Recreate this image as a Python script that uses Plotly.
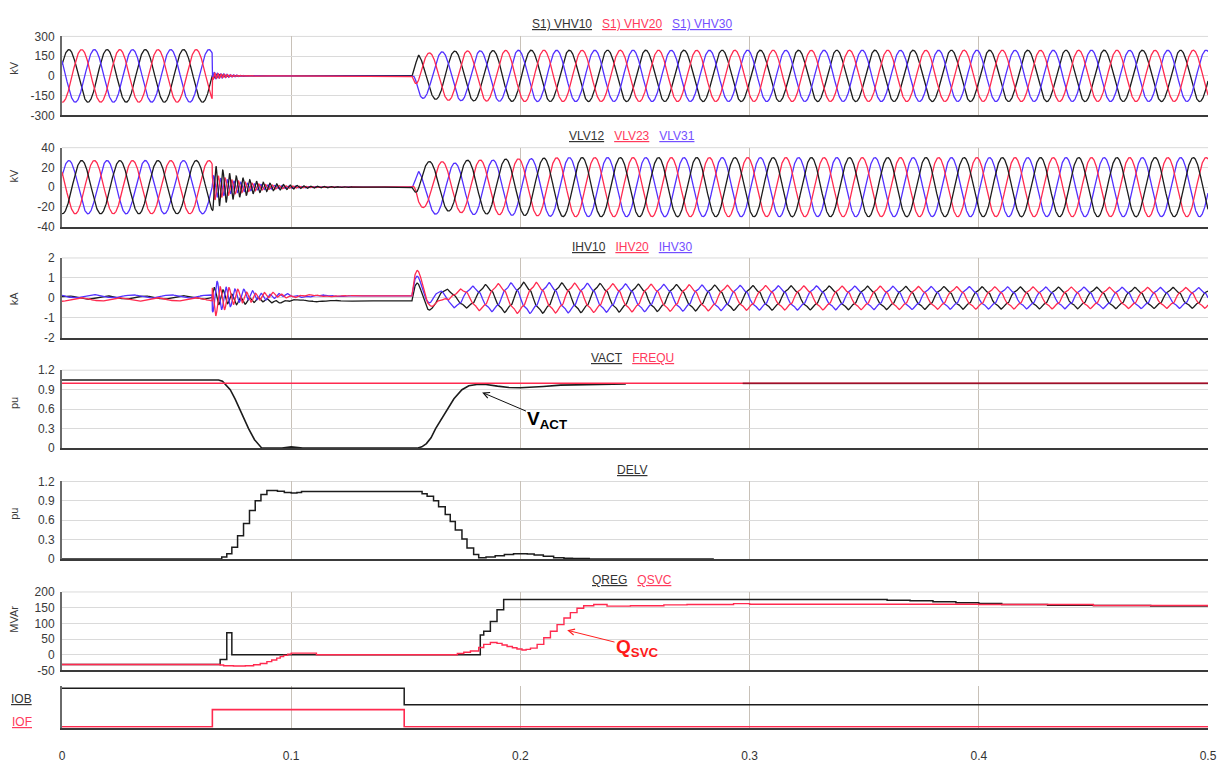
import numpy as np
import plotly.graph_objects as go

# ---------------- timing (s) ----------------
F_SYS = 60.0
T_FAULT = 0.0655
T_CLEAR = 0.1527
T_END = 0.5
DT = 1e-4
PHASE_T0_PRE = 0.0030      # time of the first VHV10 crest before the fault
PHASE_T0_POST = 0.0047     # crest reference after re-energisation
IHV_T0_POST = 0.0014

# ---------------- HV phase voltages (kV) ----------------
VHV_NAMES = ["S1) VHV10", "S1) VHV20", "S1) VHV30"]
VHV_ENV_T = [0.0, 0.0655, 0.0657, 0.1527, 0.1556, 0.170, 0.200, 0.500]
VHV_ENV = [200, 200, 0, 0, 168, 188, 195, 195]
VHV_RING_AMP = [14, 30, 32]
VHV_RING_PH = [0.0, 2.6, -2.6]
VHV_RING_HZ = 720
VHV_RING_TAU = 0.006

# ---------------- LV line voltages (kV) ----------------
VLV_NAMES = ["VLV12", "VLV23", "VLV31"]
VLV_ENV_T = [0.0, 0.0655, 0.0656, 0.1527, 0.1556, 0.170, 0.190, 0.220, 0.500]
VLV_ENV = [27, 27, 0, 0, 22, 26, 28, 30, 30]
VLV_RING_AMP = [24, 14, 12]
VLV_RING_PH = [2.62, 0.52, -1.57]
VLV_RING_HZ = 340
VLV_RING_TAU = 0.014
VLV_DC = [5, 3, -8]
VLV_DC_TAU = 0.012

# ---------------- HV currents (kA) ----------------
IHV_NAMES = ["IHV10", "IHV20", "IHV30"]
IHV_ENV_T = [0.0, 0.0655, 0.100, 0.130, 0.1527, 0.165, 0.185, 0.200, 0.250, 0.300, 0.400, 0.500]
IHV_ENV = [0.08, 0.08, 0.05, 0.0, 0.0, 0.30, 0.60, 0.70, 0.62, 0.55, 0.50, 0.46]
IHV_DC_T = [0.0, 0.0655, 0.085, 0.1527, 0.170, 0.500]
IHV10_DC = [0.02, 0.02, -0.15, -0.15, 0.0, 0.0]
IHV20_DC = [-0.08, -0.08, 0.10, 0.10, 0.0, 0.0]
IHV30_DC = [0.08, 0.08, 0.10, 0.10, 0.0, 0.0]
IHV_RING_AMP = [0.5, 0.85, 0.85]
IHV_RING_PH = [0.0, 2.1, -2.1]
IHV_RING_HZ = 260
IHV_RING_TAU = 0.013
IHV_SPIKE_AMP = [1.3, 1.9, 1.6]
IHV_SPIKE_HZ = 90
IHV_SPIKE_TAU = 0.006
IHV_H5 = 0.12

# ---------------- control signals ----------------
VACT_T = [0.0, 0.0683, 0.0700, 0.0734, 0.0755, 0.0775, 0.0795, 0.0814, 0.0840, 0.0860, 0.0872,
          0.0960, 0.0980, 0.1000, 0.1020, 0.1050, 0.1549, 0.1570, 0.1590, 0.1610, 0.1630, 0.1655,
          0.1680, 0.1710, 0.1745, 0.1775, 0.1810, 0.1850, 0.1900, 0.1950, 0.2000, 0.2050, 0.2100,
          0.2175, 0.2300, 0.2406, 0.2460]
VACT = [1.05, 1.05, 1.03, 0.90, 0.76, 0.60, 0.45, 0.30, 0.13, 0.04, 0.0,
        0.0, 0.015, 0.02, 0.015, 0.0, 0.0, 0.02, 0.07, 0.16, 0.30, 0.45,
        0.60, 0.76, 0.90, 0.96, 0.98, 0.98, 0.955, 0.935, 0.93, 0.935, 0.95,
        0.97, 0.978, 0.985, 0.988]
VACT_LATE_T = [0.297, 0.500]
VACT_LATE = [0.997, 0.997]
FREQU_T = [0.0, 0.500]
FREQU = [1.0, 1.0]

DELV_T = [0.0, 0.0697, 0.0719, 0.0741, 0.0766, 0.0792, 0.0818, 0.0843, 0.0868, 0.0894, 0.0940,
          0.0970, 0.1000, 0.1025, 0.1045, 0.1571, 0.1593, 0.1621, 0.1643, 0.1672, 0.1694, 0.1716,
          0.1745, 0.1767, 0.1796, 0.1818, 0.1850, 0.1890, 0.1930, 0.1970, 0.2000, 0.2030, 0.2060,
          0.2100, 0.2145, 0.2190, 0.2227, 0.2300, 0.2844]
DELV = [0.0, 0.03, 0.08, 0.18, 0.36, 0.55, 0.75, 0.90, 1.00, 1.06, 1.05,
        1.03, 1.02, 1.03, 1.045, 1.01, 0.97, 0.90, 0.81, 0.69, 0.58, 0.45,
        0.31, 0.17, 0.07, 0.02, 0.03, 0.05, 0.07, 0.08, 0.08, 0.075, 0.06,
        0.04, 0.02, 0.01, 0.005, 0.0, 0.0]

QREG_T = [0.0, 0.0690, 0.0719, 0.0741, 0.1825, 0.1840, 0.1869, 0.1898, 0.1927, 0.350, 0.360,
          0.370, 0.380, 0.390, 0.400, 0.410, 0.430, 0.450, 0.475, 0.500]
QREG = [-31, -15, 70, 0, 63, 75, 106, 143, 176, 176, 174,
        172, 169, 166, 163, 160, 158, 157, 155, 154]
QSVC_T = [0.0, 0.0690, 0.0705, 0.0748, 0.0800, 0.0836, 0.0865, 0.0894, 0.0915, 0.0937, 0.0952,
          0.0967, 0.0985, 0.1000, 0.1110, 0.1725, 0.1753, 0.1782, 0.1818, 0.1840, 0.1869, 0.1898,
          0.1920, 0.1942, 0.1965, 0.1985, 0.2007, 0.2025, 0.2044, 0.2073, 0.2102, 0.2131, 0.2160,
          0.2190, 0.2218, 0.2247, 0.2276, 0.2320, 0.2378, 0.2480, 0.2626, 0.2727, 0.2930, 0.3000,
          0.3500, 0.4000, 0.4500, 0.5000]
QSVC = [-31, -33, -35, -36, -35, -32, -28, -22, -17, -11, -6,
        -2, 2, 5, 0, 4, 8, 12, 23, 33, 39, 36,
        31, 26, 22, 18, 15, 17, 21, 33, 54, 75, 96,
        117, 134, 148, 156, 160, 155, 156, 159, 160, 163, 161,
        161, 160, 157, 153]

IOB_T = [0.0, 0.1493, 0.500]
IOB = [1, 0, 0]
IOF_T = [0.0, 0.0656, 0.1493, 0.500]
IOF = [0, 1, 0, 0]

XTICKS = [0, 0.1, 0.2, 0.3, 0.4, 0.5]
XTICK_TEXT = ["0", "0.1", "0.2", "0.3", "0.4", "0.5"]

# ---------------- styling ----------------
BLACK = "#1c1c1c"
RED = "#ff2a4f"
BLUE = "#5230ff"
RED_TXT = "#ff3a5c"
BLUE_TXT = "#7450ff"
HGRID = "#dadada"
VGRID = "#c8c1b8"
FONT = "Liberation Sans, Arial, sans-serif"
W, H = 1230, 763
ML, MR = 62, 22
PW = W - ML - MR


def px_x(px):
    return (px - ML) / PW


def px_y(py):
    return 1 - py / H


# ---------------- waveform synthesis ----------------
t = np.arange(0.0, T_END + DT / 2, DT)
w = 2 * np.pi * F_SYS
theta = np.where(t < T_CLEAR, w * (t - PHASE_T0_PRE), w * (t - PHASE_T0_POST))
theta_i = np.where(t < T_CLEAR, w * (t - PHASE_T0_PRE), w * (t - IHV_T0_POST))
tf = np.clip(t - T_FAULT, 0, None)
tr = np.clip(t - T_CLEAR, 0, None)
in_fault = (t > T_FAULT + DT / 2) & (t < T_CLEAR)
after = t >= T_CLEAR

SEQ = [0.0, -2 * np.pi / 3, 2 * np.pi / 3]
SEQ_LL = [-2 * np.pi / 3, 2 * np.pi / 3, 0.0]

vhv_env = np.interp(t, VHV_ENV_T, VHV_ENV)
vhv = []
for k in range(3):
    v = vhv_env * np.cos(theta + SEQ[k])
    v = v + in_fault * VHV_RING_AMP[k] * np.exp(-tf / VHV_RING_TAU) * np.sin(
        2 * np.pi * VHV_RING_HZ * tf + VHV_RING_PH[k])
    vhv.append(v)

vlv_env = np.interp(t, VLV_ENV_T, VLV_ENV)
vlv = []
for k in range(3):
    v = vlv_env * np.cos(theta + SEQ_LL[k])
    v = v + in_fault * VLV_RING_AMP[k] * np.exp(-tf / VLV_RING_TAU) * np.cos(
        2 * np.pi * VLV_RING_HZ * tf + VLV_RING_PH[k])
    v = v + after * VLV_DC[k] * (1 - np.exp(-tr / 0.002)) * np.exp(-tr / VLV_DC_TAU)
    vlv.append(v)

ihv_env = np.interp(t, IHV_ENV_T, IHV_ENV)
ihv_dc = [IHV10_DC, IHV20_DC, IHV30_DC]
ihv = []
for k in range(3):
    ang = theta_i + SEQ[k]
    i = ihv_env * (np.cos(ang) + IHV_H5 * np.cos(5 * ang))
    i = i + np.interp(t, IHV_DC_T, ihv_dc[k])
    i = i + in_fault * IHV_RING_AMP[k] * np.exp(-tf / IHV_RING_TAU) * np.sin(
        2 * np.pi * IHV_RING_HZ * tf + IHV_RING_PH[k])
    i = i + after * IHV_SPIKE_AMP[k] * np.exp(-tr / IHV_SPIKE_TAU) * np.sin(
        2 * np.pi * IHV_SPIKE_HZ * tr)
    ihv.append(i)

# ---------------- figure ----------------
fig = go.Figure()


def add(x, y, panel, color, width=1.3, shape="linear", opacity=1.0, yaxis=None):
    xa = "x" if panel == 1 else f"x{panel}"
    ya = yaxis or ("y" if panel == 1 else f"y{panel}")
    fig.add_trace(go.Scatter(x=x, y=y, xaxis=xa, yaxis=ya, mode="lines",
                             line=dict(color=color, width=width, shape=shape),
                             opacity=opacity, showlegend=False, hoverinfo="skip"))


PHASE_COLORS = [BLACK, RED, BLUE]
for k in (0, 2, 1):
    add(t, vhv[k], 1, PHASE_COLORS[k])
for k in (2, 1, 0):
    add(t, vlv[k], 2, PHASE_COLORS[k])
for k in (0, 2, 1):
    add(t, ihv[k], 3, PHASE_COLORS[k])

add(VACT_T, VACT, 4, BLACK, width=1.6)
add(FREQU_T, FREQU, 4, RED, width=1.4)
add(VACT_LATE_T, VACT_LATE, 4, "#5a0010", width=1.6, opacity=0.6)

add(DELV_T, DELV, 5, BLACK, width=1.5, shape="hv")

add(QREG_T, QREG, 6, BLACK, width=1.5, shape="hv")
add(QSVC_T, QSVC, 6, RED, width=1.4, shape="hv")

add(IOB_T, IOB, 7, BLACK, width=1.5, shape="hv", yaxis="y7")
add(IOF_T, IOF, 7, RED, width=1.6, shape="hv", yaxis="y8")

PANEL_PX = [(30, 110.5), (143.5, 224), (256, 337.5), (370.5, 450),
            (484, 563), (596.7, 676.7), (693, 735)]
Y_RANGES = [[-300, 300], [-40, 40], [-2, 2], [0, 1.2], [0, 1.2], [-50, 200], [-1.395, 1.12]]
Y_TICKS = [[-300, -150, 0, 150, 300], [-40, -20, 0, 20, 40], [-2, -1, 0, 1, 2],
           [0, 0.3, 0.6, 0.9, 1.2], [0, 0.3, 0.6, 0.9, 1.2], [-50, 0, 50, 100, 150, 200]]
Y_TICK_TEXT = [["-300", "-150", "0", "150", "300"], ["-40", "-20", "0", "20", "40"],
               ["-2", "-1", "0", "1", "2"], ["0", "0.3", "0.6", "0.9", "1.2"],
               ["0", "0.3", "0.6", "0.9", "1.2"], ["-50", "0", "50", "100", "150", "200"]]

layout = dict(
    width=W, height=H,
    margin=dict(l=ML, r=MR, t=0, b=0),
    paper_bgcolor="white", plot_bgcolor="white",
    font=dict(family=FONT, size=12, color="#3a3a3a"),
    showlegend=False,
)

for p in range(1, 8):
    top, bot = PANEL_PX[p - 1]
    xk = "xaxis" if p == 1 else f"xaxis{p}"
    yk = "yaxis" if p == 1 else f"yaxis{p}"
    xa = dict(domain=[0, 1], anchor="y" if p == 1 else f"y{p}", range=[0, 0.5],
              tickmode="array", tickvals=XTICKS, ticktext=XTICK_TEXT,
              showticklabels=(p == 7), ticks="", ticklabelstandoff=16,
              tickfont=dict(size=12, color="#333333"),
              showgrid=True, gridcolor=VGRID, gridwidth=1,
              showline=True, linecolor="#3a3a3a", linewidth=2, zeroline=False)
    if p > 1:
        xa["matches"] = "x"
    layout[xk] = xa
    ya = dict(domain=[px_y(bot), px_y(top)], anchor="x" if p == 1 else f"x{p}",
              ticks="", showline=True, linecolor="#6a6a6a", linewidth=2, zeroline=False)
    if p < 7:
        ya.update(range=Y_RANGES[p - 1], tickmode="array", tickvals=Y_TICKS[p - 1],
                  ticktext=Y_TICK_TEXT[p - 1], ticklabelstandoff=3,
                  tickfont=dict(size=12, color="#3a3a3a"),
                  showgrid=True, gridcolor=HGRID, gridwidth=1)
    else:
        ya.update(range=Y_RANGES[p - 1], showgrid=False, showticklabels=False)
    layout[yk] = ya

layout["yaxis8"] = dict(overlaying="y7", anchor="x7", range=[-0.04, 2.347],
                        showgrid=False, showline=False, showticklabels=False,
                        zeroline=False, ticks="")

shapes = []
for p in range(1, 7):
    shapes.append(dict(type="line", xref="paper", x0=0, x1=1,
                       yref=("y" if p == 1 else f"y{p}") + " domain", y0=1, y1=1,
                       line=dict(color=HGRID, width=1), layer="below"))
layout["shapes"] = shapes


def legend_text(names, colors):
    parts = [f"<span style='color:{c}'><u>{n}</u></span>" for n, c in zip(names, colors)]
    return "\u00a0\u00a0\u00a0".join(parts)


TITLE_CX = 632
annotations = []
titles = [
    (legend_text(VHV_NAMES, ["#333333", RED_TXT, BLUE_TXT]), 17),
    (legend_text(VLV_NAMES, ["#333333", RED_TXT, BLUE_TXT]), 131.5),
    (legend_text(IHV_NAMES, ["#333333", RED_TXT, BLUE_TXT]), 245),
    (legend_text(["VACT", "FREQU"], ["#333333", RED_TXT]), 358),
    (legend_text(["DELV"], ["#333333"]), 472),
    (legend_text(["QREG", "QSVC"], ["#333333", RED_TXT]), 584),
]
for txt, py in titles:
    annotations.append(dict(text=txt, xref="paper", yref="paper", x=px_x(TITLE_CX), y=px_y(py),
                            xanchor="center", yanchor="middle", showarrow=False,
                            font=dict(size=12, family=FONT)))

units = [("kV", 62), ("kV", 172), ("kA", 297), ("pu", 404), ("pu", 517), ("MVAr", 625)]
for u, py in units:
    annotations.append(dict(text=u, xref="paper", yref="paper", x=px_x(14), y=px_y(py),
                            xanchor="center", yanchor="middle", textangle=-90, showarrow=False,
                            font=dict(size=11, family=FONT, color="#3a3a3a")))

annotations.append(dict(text="<u>IOB</u>", xref="paper", yref="paper", x=px_x(21), y=px_y(706),
                        xanchor="center", yanchor="middle", showarrow=False,
                        font=dict(size=12, family=FONT, color="#333333")))
annotations.append(dict(text="<u>IOF</u>", xref="paper", yref="paper", x=px_x(22), y=px_y(729),
                        xanchor="center", yanchor="middle", showarrow=False,
                        font=dict(size=12, family=FONT, color=RED_TXT)))

# callouts: label sits at (ax, ay), arrow points at (x, y)
annotations.append(dict(text="<b>V<sub>ACT</sub></b>", xref="x4", yref="y4",
                        x=0.1833, y=0.858, axref="x4", ayref="y4", ax=0.2118, ay=0.43,
                        showarrow=True, arrowhead=5, arrowsize=1.2, arrowwidth=1,
                        arrowcolor="#111111", standoff=0, startstandoff=0,
                        font=dict(size=19, family=FONT, color="#000000")))
annotations.append(dict(text="<b>Q<sub>SVC</sub></b>", xref="x6", yref="y6",
                        x=0.2204, y=78, axref="x6", ayref="y6", ax=0.2511, ay=22,
                        showarrow=True, arrowhead=5, arrowsize=1.2, arrowwidth=1,
                        arrowcolor="#ff2020", standoff=0, startstandoff=0,
                        font=dict(size=19, family=FONT, color="#ff1a1a")))

layout["annotations"] = annotations
fig.update_layout(**layout)
fig.write_html("out.html")
